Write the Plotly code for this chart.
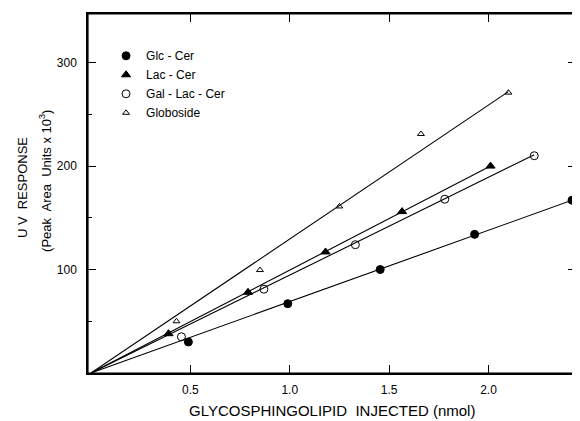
import plotly.graph_objects as go

# Data
glc_x = [0.49, 0.99, 1.455, 1.93, 2.42]
glc_y = [30, 67, 100, 134, 167]

lac_x = [0.39, 0.79, 1.18, 1.565, 2.01]
lac_y = [38, 78, 117, 156, 200]

gallac_x = [0.455, 0.87, 1.33, 1.78, 2.23]
gallac_y = [35, 81, 124, 168, 210]

globo_x = [0.43, 0.85, 1.25, 1.66, 2.10]
globo_y = [50, 99.5, 161, 231, 271]

# Fitted lines (start, end)
glc_fit_x = [0, 2.42]
glc_fit_y = [0, 167]
lac_fit_x = [0, 2.01]
lac_fit_y = [0, 200]
gallac_fit_x = [0, 2.23]
gallac_fit_y = [0, 211]
globo_fit_x = [0, 2.10]
globo_fit_y = [0, 272]

names = ["Glc - Cer", "Lac - Cer", "Gal - Lac - Cer", "Globoside"]

x_tickvals = [0.5, 1.0, 1.5, 2.0]
x_ticktext = ["0.5", "1.0", "1.5", "2.0"]
y_tickvals = [100, 200, 300]
y_minor = [50, 150, 250]

x_title = "GLYCOSPHINGOLIPID  INJECTED (nmol)"
y_title_1 = "U V  RESPONSE"
y_title_2 = "(Peak  Area  Units x 10<sup>3</sup>)"

FONT = "Liberation Sans, Arial, sans-serif"

fig = go.Figure()

for fx, fy in [(glc_fit_x, glc_fit_y), (lac_fit_x, lac_fit_y),
               (gallac_fit_x, gallac_fit_y), (globo_fit_x, globo_fit_y)]:
    fig.add_trace(go.Scatter(x=fx, y=fy, mode="lines",
                             line=dict(color="black", width=1.1),
                             showlegend=False, hoverinfo="skip"))

styles = [
    dict(symbol="circle", size=8, color="black", line=dict(color="black", width=1)),
    dict(symbol="triangle-up", size=8, color="black", line=dict(color="black", width=1)),
    dict(symbol="circle-open", size=8, color="black", line=dict(color="black", width=1)),
    dict(symbol="triangle-up-open", size=6, color="black", line=dict(color="black", width=1)),
]
for (xs, ys), nm, st in zip([(glc_x, glc_y), (lac_x, lac_y), (gallac_x, gallac_y), (globo_x, globo_y)],
                            names, styles):
    fig.add_trace(go.Scatter(x=xs, y=ys, mode="markers", name=nm, marker=st,
                             cliponaxis=False))

fig.update_layout(
    template="none",
    width=572, height=413,
    margin=dict(l=80, r=4, t=6, b=48, autoexpand=False),
    paper_bgcolor="white", plot_bgcolor="white",
    font=dict(family=FONT, color="black", size=12),
    legend=dict(x=0.037, y=0.924, xanchor="left", yanchor="top",
                bgcolor="rgba(0,0,0,0)", font=dict(size=12, family=FONT, color="black"),
                tracegroupgap=0, itemwidth=30),
    xaxis=dict(range=[-0.015, 2.44], showgrid=False, zeroline=False, automargin=False,
               showline=True, linecolor="black", linewidth=1.5, mirror="ticks",
               ticks="inside", ticklen=8, tickcolor="black", tickwidth=1,
               tickvals=x_tickvals, ticktext=x_ticktext, ticklabelstandoff=5,
               tickfont=dict(size=12, color="black")),
    yaxis=dict(range=[0, 347], showgrid=False, zeroline=False, automargin=False,
               showline=True, linecolor="black", linewidth=1.5, mirror="ticks",
               ticks="inside", ticklen=8, tickcolor="black", tickwidth=1,
               tickvals=y_tickvals, tickfont=dict(size=12, color="black"),
               ticklabelstandoff=7,
               minor=dict(tickvals=y_minor, ticks="inside", ticklen=4, tickcolor="black")),
    shapes=[dict(type="rect", xref="paper", yref="paper", x0=0, x1=1, y0=0, y1=1,
                 line=dict(color="black", width=1.2), fillcolor="rgba(0,0,0,0)",
                 layer="above")],
    annotations=[
        dict(text=x_title, xref="paper", yref="paper", x=0.5, y=0, yshift=-37,
             xanchor="center", yanchor="middle", showarrow=False,
             font=dict(size=15, color="black", family=FONT)),
        dict(text=y_title_1, xref="paper", yref="paper", x=0, xshift=-66, y=0.515,
             xanchor="center", yanchor="middle", showarrow=False, textangle=-90,
             font=dict(size=13, color="black", family=FONT)),
        dict(text=y_title_2, xref="paper", yref="paper", x=0, xshift=-43, y=0.535,
             xanchor="center", yanchor="middle", showarrow=False, textangle=-90,
             font=dict(size=13, color="black", family=FONT)),
    ],
)

fig.write_html("out.html")
